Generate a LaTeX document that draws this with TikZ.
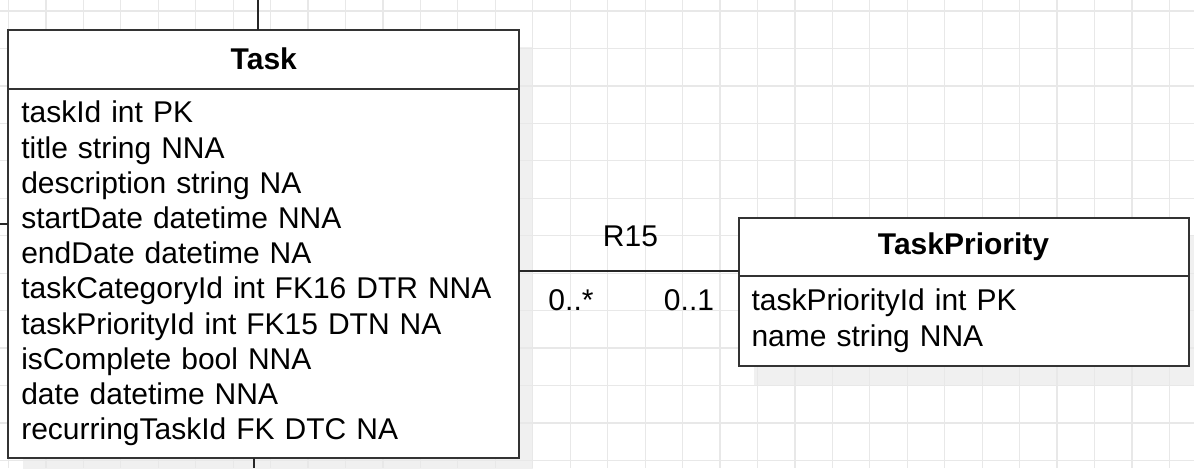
\documentclass[tikz,border=0pt]{standalone}
\usepackage{fontspec}
\setmainfont{Liberation Sans}
\usepackage{xcolor}
\usetikzlibrary{positioning,calc,backgrounds}

\begin{document}
\begin{tikzpicture}[
  x=0.75pt,y=-0.75pt,
  every node/.style={font=\fontsize{22.5}{26.4}\selectfont,inner sep=0pt,outer sep=0pt},
  head/.style={draw=black!80,line width=1.5pt,fill=white,font=\fontsize{22.5}{26.4}\selectfont\bfseries},
  body/.style={draw=black!80,line width=1.5pt,fill=white,align=left,inner xsep=9.75pt,inner ysep=0pt},
  shade/.style={fill=black!6},
  gridline/.style={black!9,line width=0.9pt},
  conn/.style={black!85,line width=1.5pt}
]
\useasboundingbox (0,0) rectangle (1194,468);

\node[head,anchor=north west,minimum width=383.25pt,minimum height=44.6pt] (taskhead) at (8.3,29.5) {Task};
\node[body,text width=363.75pt,minimum height=277pt,below=0pt of taskhead] (taskbody) {taskId int PK\\
title string NNA\\
description string NA\\
startDate datetime NNA\\
endDate datetime NA\\
taskCategoryId int FK16 DTR NNA\\
taskPriorityId int FK15 DTN NA\\
isComplete bool NNA\\
date datetime NNA\\
recurringTaskId FK DTC NA};

\node[head,anchor=north west,minimum width=337.5pt,minimum height=43.5pt] (tphead) at (738.5,217.7) {TaskPriority};
\node[body,text width=318pt,minimum height=67.7pt,below=0pt of tphead] (tpbody) {taskPriorityId int PK\\
name string NNA};

\coordinate (r15end) at ([yshift=3.75pt]tphead.south west);
\draw[conn] (taskbody.east |- r15end) -- (r15end);
\node (r15) at (630.5,236.7) {R15};
\node (manyend) at (571,300) {0..*};
\node (oneend) at (689,300) {0..1};

\coordinate (topend) at (258.3,0);
\draw[conn] (topend) -- (topend |- taskhead.north);
\coordinate (botend) at (254.3,468);
\draw[conn] (botend |- taskbody.south) -- (botend);
\coordinate (leftend) at (0,224.3);
\draw[conn] (leftend) -- (leftend -| taskbody.west);

\begin{scope}[on background layer]
\fill[white] (0,0) rectangle (1194,468);
\fill[shade] ($(taskhead.north west)+(15,17)$) rectangle ($(taskbody.south east)+(14,17)$);
\fill[shade] ($(tphead.north west)+(15,17)$) rectangle ($(tpbody.south east)+(15,19)$);
\foreach \gx in {0,...,31}
  \draw[gridline] ({8.45+37.45*\gx},0) -- ({8.45+37.45*\gx},468);
\foreach \gy in {0,...,12}
  \draw[gridline] (0,{11+37.45*\gy}) -- (1194,{11+37.45*\gy});
\end{scope}
\end{tikzpicture}
\end{document}
